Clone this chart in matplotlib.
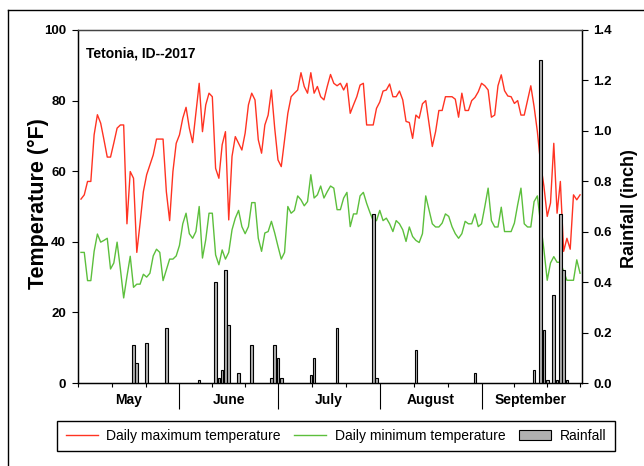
import matplotlib
matplotlib.use("Agg")
import matplotlib.pyplot as plt
import matplotlib.transforms as mtransforms
from matplotlib.lines import Line2D
from matplotlib.patches import Patch
import numpy as np

plt.rcParams['font.family'] = ['Liberation Sans', 'DejaVu Sans']

# daily max temperature (F), May 1 - Sep 30
tmax = [52.1, 53.3, 57.1, 57.1, 70.3, 76.0, 73.6, 68.9, 64.0, 64.0,
        68.0, 72.2, 73.1, 73.1, 45.1, 59.9, 58.0, 37.0, 45.3, 54.2,
        59.0, 61.8, 64.6, 69.1, 69.1, 69.1, 54.2, 46.0, 59.9, 67.9,
        70.3, 75.0, 78.1, 72.2, 68.1, 76.4, 84.9,
        71.2, 78.8, 82.1, 81.1, 60.8, 58.0, 67.5, 71.2, 46.2, 64.2,
        69.8, 67.9, 66.0, 70.8, 78.8, 82.1, 80.2, 68.9, 65.1, 73.1,
        75.9, 83.0, 72.2, 63.2, 61.3, 68.9, 76.4, 81.1, 82.1, 83.0,
        87.9, 84.0, 82.1, 87.9, 82.1, 84.0, 81.1, 80.2, 84.0,
        87.4, 84.9, 84.2, 84.9, 83.0, 84.9, 76.4, 78.8, 81.1, 84.4,
        84.9, 73.1, 73.1, 73.1, 77.8, 79.6, 82.7, 83.0, 84.7, 81.1,
        81.1, 82.7, 80.2, 74.1, 73.8, 69.3, 75.9, 75.0, 79.1, 80.0,
        73.6, 67.0, 71.2, 77.2, 77.2, 81.1, 81.1, 81.1,
        80.4, 75.3, 82.1, 77.2, 77.2, 80.0, 80.9, 82.5, 84.9, 84.2,
        83.0, 75.3, 75.9, 84.2, 87.3, 82.8, 81.3, 81.1, 79.2, 80.0,
        75.9, 75.9, 80.0, 84.2, 78.3, 71.2, 62.0, 55.7, 47.2, 51.0,
        67.9, 48.1, 57.1, 37.3, 41.0, 37.9, 53.3, 51.9, 53.3]

# daily min temperature (F)
tmin = [37.0, 37.0, 29.0, 29.0, 37.3, 42.2, 39.9, 40.4, 41.0, 32.3,
        34.0, 39.9, 32.3, 24.1, 30.2, 35.9, 27.1, 28.0, 28.0, 30.8,
        30.0, 31.1, 36.0, 37.9, 37.0, 29.0, 32.1, 35.1, 35.1, 36.0,
        39.0, 45.1, 48.1, 42.3, 41.0, 42.9, 50.0,
        35.4, 40.6, 48.1, 48.1, 36.3, 33.5, 37.7, 35.1, 37.0, 43.4,
        46.7, 48.9, 44.3, 42.3, 44.3, 51.1, 51.1, 41.0, 37.3, 42.5,
        42.9, 45.8, 42.5, 38.7, 35.1, 37.0, 50.0, 48.1, 48.9, 53.0,
        51.9, 50.2, 51.4, 59.0, 52.4, 53.3, 55.8, 52.4, 54.2,
        55.8, 55.2, 49.1, 49.1, 52.4, 54.0, 44.3, 47.9, 47.9, 53.0,
        54.0, 50.9, 48.3, 46.0, 46.0, 48.9, 46.0, 46.7, 45.1, 42.9,
        46.0, 45.1, 43.4, 40.1, 44.2, 41.5, 40.4, 39.8, 42.3, 53.0,
        49.1, 45.1, 44.2, 44.2, 45.3, 47.9, 47.2, 44.3,
        42.3, 41.0, 42.3, 45.8, 45.1, 45.1, 47.9, 44.3, 45.1, 50.0,
        55.2, 46.0, 44.2, 44.2, 49.8, 42.9, 42.9, 42.9, 45.3, 50.5,
        55.2, 45.1, 44.2, 44.2, 51.4, 53.0, 45.0, 37.7, 29.1, 34.0,
        35.8, 34.2, 34.2, 31.6, 29.1, 29.1, 29.1, 34.9, 31.1]

# rainfall: day of season (May 1 = 1) and amount in inches
rain_day = [17, 18, 21, 27, 37, 42, 43, 44, 45, 46, 49, 53, 59, 60, 61, 62,
            71, 72, 79, 90, 91, 103, 121, 139, 141, 142, 143, 145, 146, 147,
            148, 149]
rain_in = [0.15, 0.08, 0.16, 0.22, 0.01, 0.40, 0.02, 0.05, 0.45, 0.23, 0.04,
           0.15, 0.02, 0.15, 0.10, 0.02, 0.03, 0.10, 0.22, 0.67, 0.02, 0.13,
           0.04, 0.05, 1.28, 0.21, 0.01, 0.35, 0.01, 0.67, 0.45, 0.01]

months = ['May', 'June', 'July', 'August', 'September']
month_len = [31, 30, 31, 31, 30]

red = '#ff3322'
green = '#5cbf3c'
bar_fill = '#b0b0b0'

days = np.arange(1, len(tmax) + 1)

fig = plt.figure(figsize=(6.44, 4.66), dpi=100)
ax = fig.add_axes([77.7 / 644, 1 - 383 / 466, 504 / 644, 353 / 466])
ax2 = ax.twinx()

ax.plot(days, tmax, color=red, lw=1)
ax.plot(days, tmin, color=green, lw=1)
ax2.bar(rain_day, rain_in, width=0.8, color=bar_fill, edgecolor='black',
        linewidth=0.8)

ax.set_xlim(0, 153.5)
ax.set_ylim(0, 100)
ax2.set_ylim(0, 1.4)

ax.set_yticks(range(0, 101, 20))
ax.set_yticklabels([str(v) for v in range(0, 101, 20)], fontsize=9.5,
                   fontweight='bold')
rticks = np.arange(0, 1.41, 0.2)
ax2.set_yticks(rticks)
ax2.set_yticklabels([f'{v:.1f}' for v in rticks], fontsize=9.5,
                    fontweight='bold')
ax.tick_params(axis='y', length=4, width=0.8, pad=4.5)
ax2.tick_params(axis='y', length=4, width=0.8, pad=4.5)

# month separators (major) and thirds of months (minor)
bounds = np.cumsum([0] + month_len)
minor = [0, bounds[-1]]
for b, n in zip(bounds[:-1], month_len):
    minor += [b + n / 3, b + 2 * n / 3]
ax.set_xticks(bounds[1:-1])
ax.set_xticklabels([])
ax.set_xticks(minor, minor=True)
ax.tick_params(axis='x', which='major', length=19, width=0.8)
ax.tick_params(axis='x', which='minor', length=3, width=0.8)

trans = mtransforms.blended_transform_factory(ax.transData, ax.transAxes)
for b, n, m in zip(bounds[:-1], month_len, months):
    ax.text(b + n / 2, -0.048, m, transform=trans, ha='center', va='center',
            fontsize=10, fontweight='bold')

for a in (ax, ax2):
    a.spines['top'].set_color('#444444')
    for s in a.spines.values():
        s.set_linewidth(0.9)

ax.text(0.0165, 0.9227, 'Tetonia, ID--2017', transform=ax.transAxes,
        fontsize=10, fontweight='bold', va='baseline')

fig.text(38 / 644, 1 - 204 / 466, 'Temperature (°F)', rotation=90,
         ha='center', va='center', fontsize=15.5, fontweight='bold')
fig.text(630 / 644, 1 - 209 / 466, 'Rainfall (inch)', rotation=90,
         ha='center', va='center', fontsize=13, fontweight='bold')

handles = [Line2D([], [], color=red, lw=1),
           Line2D([], [], color=green, lw=1),
           Patch(facecolor=bar_fill, edgecolor='black', linewidth=0.8)]
labels = ['Daily maximum temperature', 'Daily minimum temperature', 'Rainfall']
leg = fig.legend(handles, labels, loc='center', ncol=3,
                 bbox_to_anchor=(336 / 644, 1 - 436 / 466), fontsize=10,
                 frameon=True, fancybox=False, framealpha=1,
                 edgecolor='black', handlelength=2.3, handletextpad=0.6,
                 columnspacing=1.0, borderpad=0.6)
leg.get_frame().set_linewidth(1)

# outer frame of the figure
fig.add_artist(Line2D([8 / 644, 8 / 644], [0, 1 - 10 / 466],
                      transform=fig.transFigure, color='black', lw=1))
fig.add_artist(Line2D([8 / 644, 1], [1 - 10 / 466, 1 - 10 / 466],
                      transform=fig.transFigure, color='black', lw=1))

fig.savefig('out.png', dpi=100)
